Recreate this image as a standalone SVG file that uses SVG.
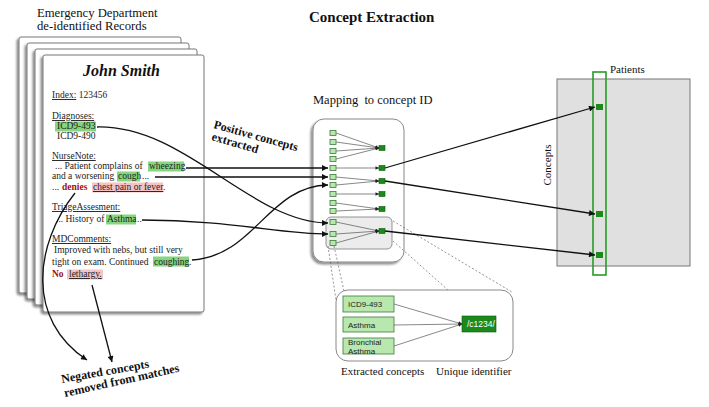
<svg xmlns="http://www.w3.org/2000/svg" width="709" height="407" viewBox="0 0 709 407">
<defs>
<style>
.serif{font-family:"Liberation Serif","Times New Roman",serif;fill:#111}
.body{font-family:"Liberation Serif","Times New Roman",serif;font-size:9.5px;fill:#222}
.ul{text-decoration:underline}
.neg{font-weight:bold;fill:#a01010}
.hg{fill:#86d67f}
.hp{fill:#f3c3c6}
.page{fill:#fff;stroke:#777;stroke-width:1}
.con{fill:none;stroke:#111;stroke-width:1.3}
.thin{fill:none;stroke:#555;stroke-width:0.7}
.dash{fill:none;stroke:#666;stroke-width:0.7;stroke-dasharray:2 2}
.ls{fill:#b9e8ae;stroke:#3a7a3a;stroke-width:0.8}
.ds{fill:#1b8a1b;stroke:#0d5a0d;stroke-width:0.6}
.lbl{font-family:"Liberation Sans",Arial,sans-serif;font-size:8px;fill:#222}
</style>
<marker id="ah" viewBox="0 0 10 10" refX="10" refY="5" markerWidth="8" markerHeight="6" markerUnits="userSpaceOnUse" orient="auto"><path d="M0,0 L10,5 L0,10 z" fill="#111"/></marker>
<marker id="sa" viewBox="0 0 10 10" refX="10" refY="5" markerWidth="4" markerHeight="3.5" markerUnits="userSpaceOnUse" orient="auto"><path d="M0,0 L10,5 L0,10 z" fill="#222"/></marker>
<filter id="sh" x="-10%" y="-10%" width="120%" height="120%"><feDropShadow dx="-2" dy="2" stdDeviation="1.2" flood-color="#000" flood-opacity="0.45"/></filter>
</defs>
<rect width="709" height="407" fill="#fff"/>

<text class="serif" x="309" y="22" font-size="15" font-weight="bold">Concept Extraction</text>

<g id="records">
<text class="serif" x="37" y="17" font-size="12.7">Emergency Department</text>
<text class="serif" x="37" y="30" font-size="12.7">de-identified Records</text>
<rect class="page" x="19" y="37" width="162" height="256" rx="2" filter="url(#sh)"/>
<rect class="page" x="27" y="43" width="162" height="256" rx="2" filter="url(#sh)"/>
<rect class="page" x="35" y="49" width="162" height="256" rx="2" filter="url(#sh)"/>
<rect class="page" x="43" y="55" width="161" height="257" rx="2" filter="url(#sh)"/>
<text class="serif" x="83" y="76" font-size="16" font-weight="bold" font-style="italic">John Smith</text>

<rect class="hg" x="55" y="121.5" width="41" height="10"/>
<rect class="hg" x="148" y="161.5" width="36" height="10"/>
<rect class="hg" x="117" y="171.5" width="23" height="10"/>
<rect class="hp" x="92" y="182.5" width="71" height="10"/>
<rect class="hg" x="106" y="214.5" width="30" height="10"/>
<rect class="hg" x="153" y="256.5" width="36" height="10"/>
<rect class="hp" x="67" y="269.5" width="36" height="10"/>

<text class="body" x="52" y="98"><tspan class="ul">Index:</tspan> 123456</text>
<text class="body ul" x="52" y="119">Diagnoses:</text>
<text class="body" x="57" y="129">ICD9-493</text>
<text class="body" x="57" y="139">ICD9-490</text>
<text class="body ul" x="52" y="159">NurseNote:</text>
<text class="body" x="55" y="169">... Patient complains of</text>
<text class="body" x="149" y="169">wheezing</text>
<text class="body" x="52" y="179">and a worsening</text>
<text class="body" x="118" y="179">cough</text>
<text class="body" x="142" y="179">...</text>
<text class="body" x="52" y="190">...</text>
<text class="body neg" x="62" y="190">denies</text>
<text class="body ul" x="93" y="190">chest pain or fever</text>
<text class="body" x="163" y="190">.</text>
<text class="body ul" x="52" y="210">TriageAssesment:</text>
<text class="body" x="56" y="222">... History of</text>
<text class="body" x="107" y="222">Asthma</text>
<text class="body" x="137" y="222">..</text>
<text class="body ul" x="52" y="242">MDComments:</text>
<text class="body" x="54" y="253">Improved with nebs, but still very</text>
<text class="body" x="52" y="265">tight on exam. Continued</text>
<text class="body" x="154" y="265">coughing</text>
<text class="body" x="189" y="265">.</text>
<text class="body neg" x="52" y="277" font-size="10.5">No</text>
<text class="body ul" x="69" y="277">lethargy.</text>
</g>

<g id="annotations">
<text class="serif" font-size="12" font-weight="bold" transform="translate(213,128) rotate(15.5)">Positive concepts</text>
<text class="serif" font-size="12" font-weight="bold" transform="translate(211,140) rotate(16)">extracted</text>
<text class="serif" font-size="12" font-weight="bold" transform="translate(62,383) rotate(-10)">Negated concepts</text>
<text class="serif" font-size="12" font-weight="bold" transform="translate(65,397) rotate(-12.5)">removed from matches</text>
</g>

<g id="mapping">
<text class="serif" x="313" y="104" font-size="12.5" style="white-space:pre">Mapping  to concept ID</text>
<rect x="313" y="119" width="91" height="143" rx="11" fill="#fff" stroke="#888" stroke-width="1" filter="url(#sh)"/>
<rect x="326" y="217" width="66" height="32" rx="5" fill="#ececec" stroke="#888" stroke-width="0.9"/>
<g class="thin" marker-end="url(#sa)">
<path d="M336,133 L379,148"/><path d="M336,142 L379,148"/><path d="M336,151 L379,148"/><path d="M336,159 L379,148"/>
<path d="M336,168 L379,168"/>
<path d="M336,177 L379,181"/><path d="M336,185 L379,181"/>
<path d="M336,194 L379,194"/>
<path d="M336,203 L379,209"/><path d="M336,211 L379,209"/>
<path d="M336,222 L379,231"/><path d="M336,234 L379,231"/><path d="M336,243 L379,231"/>
</g>
<g class="ls">
<rect x="330" y="130.5" width="6" height="5"/><rect x="330" y="139.5" width="6" height="5"/><rect x="330" y="148.5" width="6" height="5"/><rect x="330" y="156.5" width="6" height="5"/>
<rect x="330" y="165.5" width="6" height="5"/><rect x="330" y="174.5" width="6" height="5"/><rect x="330" y="182.5" width="6" height="5"/><rect x="330" y="191.5" width="6" height="5"/>
<rect x="330" y="200.5" width="6" height="5"/><rect x="330" y="208.5" width="6" height="5"/><rect x="330" y="219.5" width="6" height="5"/><rect x="330" y="231.5" width="6" height="5"/><rect x="330" y="240.5" width="6" height="5"/>
</g>
<g class="ds">
<rect x="379" y="145.5" width="6" height="5"/><rect x="379" y="165.5" width="6" height="5"/><rect x="379" y="178.5" width="6" height="5"/><rect x="379" y="191.5" width="6" height="5"/><rect x="379" y="206.5" width="6" height="5"/><rect x="379" y="228.5" width="6" height="5"/>
</g>
</g>

<g id="zoom-lines">
<path class="dash" d="M328,246 L336,300"/>
<path class="dash" d="M334,246 L344,291"/>
<path class="dash" d="M393,221 L512,292"/>
<path class="dash" d="M393,241 L448,290"/>
</g>

<g id="detail">
<rect x="336" y="290" width="177" height="71" rx="12" fill="#fff" stroke="#888" stroke-width="1"/>
<rect x="343" y="296" width="51" height="16" fill="#b9e8ae" stroke="#3a7a3a" stroke-width="0.8"/>
<rect x="343" y="317" width="51" height="15" fill="#b9e8ae" stroke="#3a7a3a" stroke-width="0.8"/>
<rect x="343" y="338" width="51" height="16" fill="#b9e8ae" stroke="#3a7a3a" stroke-width="0.8"/>
<text class="lbl" x="348" y="307">ICD9-493</text>
<text class="lbl" x="348" y="328">Asthma</text>
<text class="lbl" x="348" y="345">Bronchial</text>
<text class="lbl" x="348" y="354">Asthma</text>
<rect x="462" y="316" width="34" height="16" fill="#1b8a1b" stroke="#0d5a0d" stroke-width="0.6"/>
<text x="467" y="327" font-family="Liberation Sans, Arial, sans-serif" font-size="8.5" fill="#fff">/c1234/</text>
<g class="thin" marker-end="url(#sa)">
<path d="M394,304 L462,324"/><path d="M394,325 L462,324"/><path d="M394,346 L462,324"/>
</g>
<text class="serif" x="341" y="375" font-size="11">Extracted concepts</text>
<text class="serif" x="436" y="375" font-size="11">Unique identifier</text>
</g>

<g id="patients">
<rect x="557" y="79" width="133" height="187" fill="#e0e0e0" stroke="#777" stroke-width="1"/>
<rect x="593" y="72" width="13" height="203" fill="none" stroke="#2a9a2a" stroke-width="1.6"/>
<rect x="596" y="104" width="7" height="6" fill="#1b8a1b"/>
<rect x="596" y="211" width="7" height="6" fill="#1b8a1b"/>
<rect x="596" y="252" width="7" height="6" fill="#1b8a1b"/>
<text class="serif" x="610" y="73" font-size="11">Patients</text>
<text class="serif" font-size="11" text-anchor="middle" transform="translate(551,165) rotate(-90)">Concepts</text>
</g>

<g id="connectors">
<path class="con" d="M97,127 C185,125 250,222 328,223" marker-end="url(#ah)"/>
<path class="con" d="M186,168 L328,168" marker-end="url(#ah)"/>
<path class="con" d="M155,177 L328,177" marker-end="url(#ah)"/>
<path class="con" d="M142,220 C230,220 280,234 328,234" marker-end="url(#ah)"/>
<path class="con" d="M192,260 C255,256 268,186 328,185" marker-end="url(#ah)"/>
<path class="con" d="M75,193 C34,245 26,320 87,360" marker-end="url(#ah)"/>
<path class="con" d="M92,285 L112,362" marker-end="url(#ah)"/>
<path class="con" d="M385,168 L595,107" marker-end="url(#ah)"/>
<path class="con" d="M385,181 L595,214" marker-end="url(#ah)"/>
<path class="con" d="M385,231 L595,255" marker-end="url(#ah)"/>
</g>
</svg>
